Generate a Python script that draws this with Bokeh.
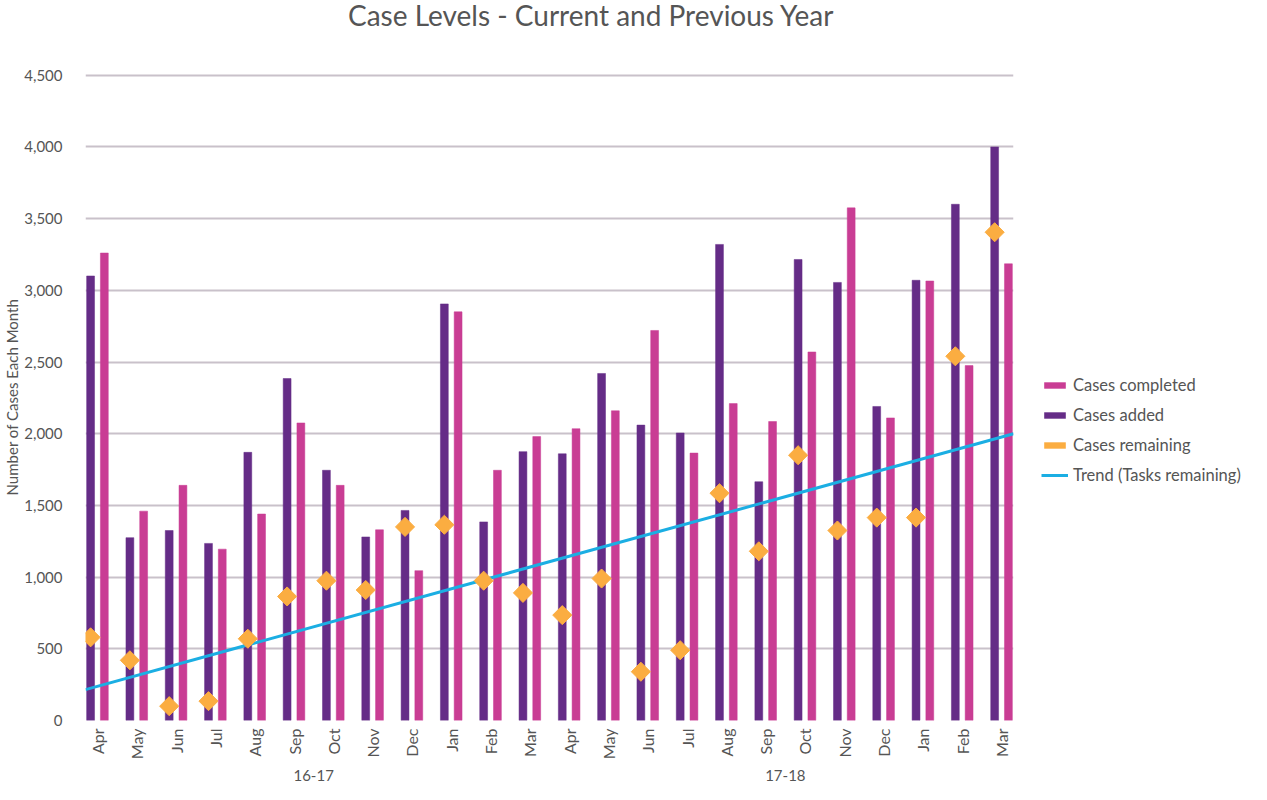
import math
from bokeh.plotting import figure
from bokeh.layouts import row, column
from bokeh.models import (FactorRange, ColumnDataSource, NumeralTickFormatter,
                          SingleIntervalTicker, Legend, LegendItem, Range1d, Div)
from bokeh.transform import dodge
from bokeh.embed import file_html
from bokeh.resources import INLINE

# ---------------- data ----------------
title_text = "Case Levels - Current and Previous Year"
years = ["16-17", "17-18"]
months = ["Apr", "May", "Jun", "Jul", "Aug", "Sep", "Oct", "Nov", "Dec", "Jan", "Feb", "Mar"]

cases_added = [3100, 1275, 1325, 1235, 1870, 2385, 1745, 1280, 1465, 2905, 1385, 1875,
               1860, 2420, 2060, 2005, 3320, 1665, 3215, 3055, 2190, 3070, 3600, 4000]
cases_completed = [3260, 1460, 1640, 1195, 1440, 2075, 1640, 1330, 1045, 2850, 1745, 1980,
                   2035, 2160, 2720, 1865, 2210, 2085, 2570, 3575, 2110, 3065, 2475, 3185]
cases_remaining = [580, 420, 100, 135, 570, 865, 975, 910, 1350, 1365, 975, 890,
                   735, 990, 340, 490, 1585, 1180, 1850, 1325, 1415, 1415, 2540, 3405]
trend_start = 215
trend_end = 2000

series_labels = ["Cases completed", "Cases added", "Cases remaining", "Trend (Tasks remaining)"]

# ---------------- styling ----------------
PURPLE = "#652C87"
PINK = "#C93D94"
ORANGE = "#FBAD41"
BLUE = "#1BAEE3"
GRID = "#C9C1CA"
TEXT = "#555555"
FONT = "Lato"

factors = [(y, m) for y in years for m in months]
src = ColumnDataSource(dict(x=factors, added=cases_added,
                            completed=cases_completed, remaining=cases_remaining))

rp = -0.0163
xr = FactorRange(*factors, factor_padding=0, group_padding=0,
                 subgroup_padding=0, range_padding=rp)
n = len(factors)
x_start = -n * rp / 2
x_end = n + n * rp / 2

TITLE_H = 30
p = figure(x_range=xr, y_range=Range1d(0, 4512), width=1014, height=784 - TITLE_H,
           output_backend="svg", toolbar_location=None, title=None,
           min_border_left=85, min_border_right=1, min_border_top=73 - TITLE_H,
           min_border_bottom=61)

p.outline_line_color = None
p.background_fill_color = "white"

p.vbar(x=dodge("x", -0.175, range=p.x_range), top="added", width=0.2,
       source=src, fill_color=PURPLE, line_color=PURPLE, line_width=0.5)
p.vbar(x=dodge("x", 0.175, range=p.x_range), top="completed", width=0.2,
       source=src, fill_color=PINK, line_color=PINK, line_width=0.5)
p.line(x=[x_start, x_end], y=[trend_start, trend_end], line_color=BLUE, line_width=3)
p.scatter(x=dodge("x", -0.175, range=p.x_range), y="remaining", source=src,
          marker="square", angle=math.pi / 4, size=13.5,
          fill_color=ORANGE, line_color=ORANGE)

# axes
p.xgrid.grid_line_color = None
p.ygrid.grid_line_color = GRID
p.ygrid.grid_line_width = 2

p.yaxis.ticker = SingleIntervalTicker(interval=500)
p.yaxis.formatter = NumeralTickFormatter(format="0,0")
p.yaxis.axis_line_color = None
p.yaxis.major_tick_line_color = None
p.yaxis.minor_tick_line_color = None
p.yaxis.major_tick_out = 0
p.yaxis.major_tick_in = 0
p.yaxis.major_label_standoff = 19
p.yaxis.major_label_text_font = FONT
p.yaxis.major_label_text_font_size = "15px"
p.yaxis.major_label_text_color = TEXT
p.yaxis.axis_label = "Number of Cases Each Month"
p.yaxis.axis_label_text_font = FONT
p.yaxis.axis_label_text_font_size = "15px"
p.yaxis.axis_label_text_font_style = "normal"
p.yaxis.axis_label_text_color = TEXT
p.yaxis.axis_label_standoff = 0

p.xaxis.axis_line_color = None
p.xaxis.major_tick_line_color = None
p.xaxis.minor_tick_line_color = None
p.xaxis.major_tick_out = 0
p.xaxis.major_tick_in = 0
p.xaxis.major_label_orientation = math.pi / 2
p.xaxis.major_label_standoff = 8
p.xaxis.major_label_text_font = FONT
p.xaxis.major_label_text_font_size = "16px"
p.xaxis.major_label_text_color = TEXT
p.xaxis.group_text_font = FONT
p.xaxis.group_text_font_size = "15px"
p.xaxis.group_text_font_style = "normal"
p.xaxis.group_text_color = TEXT
p.xaxis.group_label_orientation = "horizontal"
p.xaxis.separator_line_color = None

# ---------------- legend panel ----------------
lg = figure(width=237, height=784 - TITLE_H, x_range=Range1d(0, 1), y_range=Range1d(0, 1),
            output_backend="svg", toolbar_location=None, title=None,
            x_axis_location=None, y_axis_location=None,
            min_border_left=0, min_border_right=0, min_border_top=0,
            min_border_bottom=0)
lg.outline_line_color = None
lg.xgrid.grid_line_color = None
lg.ygrid.grid_line_color = None
# zero-size proxies: only provide legend swatches
proxy = dict(x=[0.0], top=[0.0], bottom=[0.0])
l1 = lg.vbar(x=proxy["x"], top=proxy["top"], bottom=proxy["bottom"], width=0,
             fill_color=PINK, line_color=None)
l2 = lg.vbar(x=proxy["x"], top=proxy["top"], bottom=proxy["bottom"], width=0,
             fill_color=PURPLE, line_color=None)
l3 = lg.vbar(x=proxy["x"], top=proxy["top"], bottom=proxy["bottom"], width=0,
             fill_color=ORANGE, line_color=None)
l4 = lg.line(x=[0.0, 0.0], y=[0.0, 0.0], line_color=BLUE, line_width=3)

legend = Legend(items=[LegendItem(label=t, renderers=[r])
                       for t, r in zip(series_labels, [l1, l2, l3, l4])],
                location=(27, 235))
legend.margin = 0
legend.glyph_width = 27
legend.glyph_height = 8
legend.label_height = 20
legend.spacing = 10
legend.padding = 4
legend.label_text_font = FONT
legend.label_text_font_size = "16.5px"
legend.label_text_color = TEXT
legend.background_fill_alpha = 0
legend.border_line_color = None
lg.add_layout(legend, "center")

title_div = Div(text=title_text, width=1251, height=TITLE_H, margin=(0, 0, 0, 0),
                styles={"font-family": FONT, "font-size": "28px", "color": TEXT,
                        "padding-left": "348px", "line-height": "%dpx" % TITLE_H,
                        "white-space": "nowrap"})

layout = column(title_div, row(p, lg), spacing=0)
open("out.html", "w").write(file_html(layout, INLINE))
